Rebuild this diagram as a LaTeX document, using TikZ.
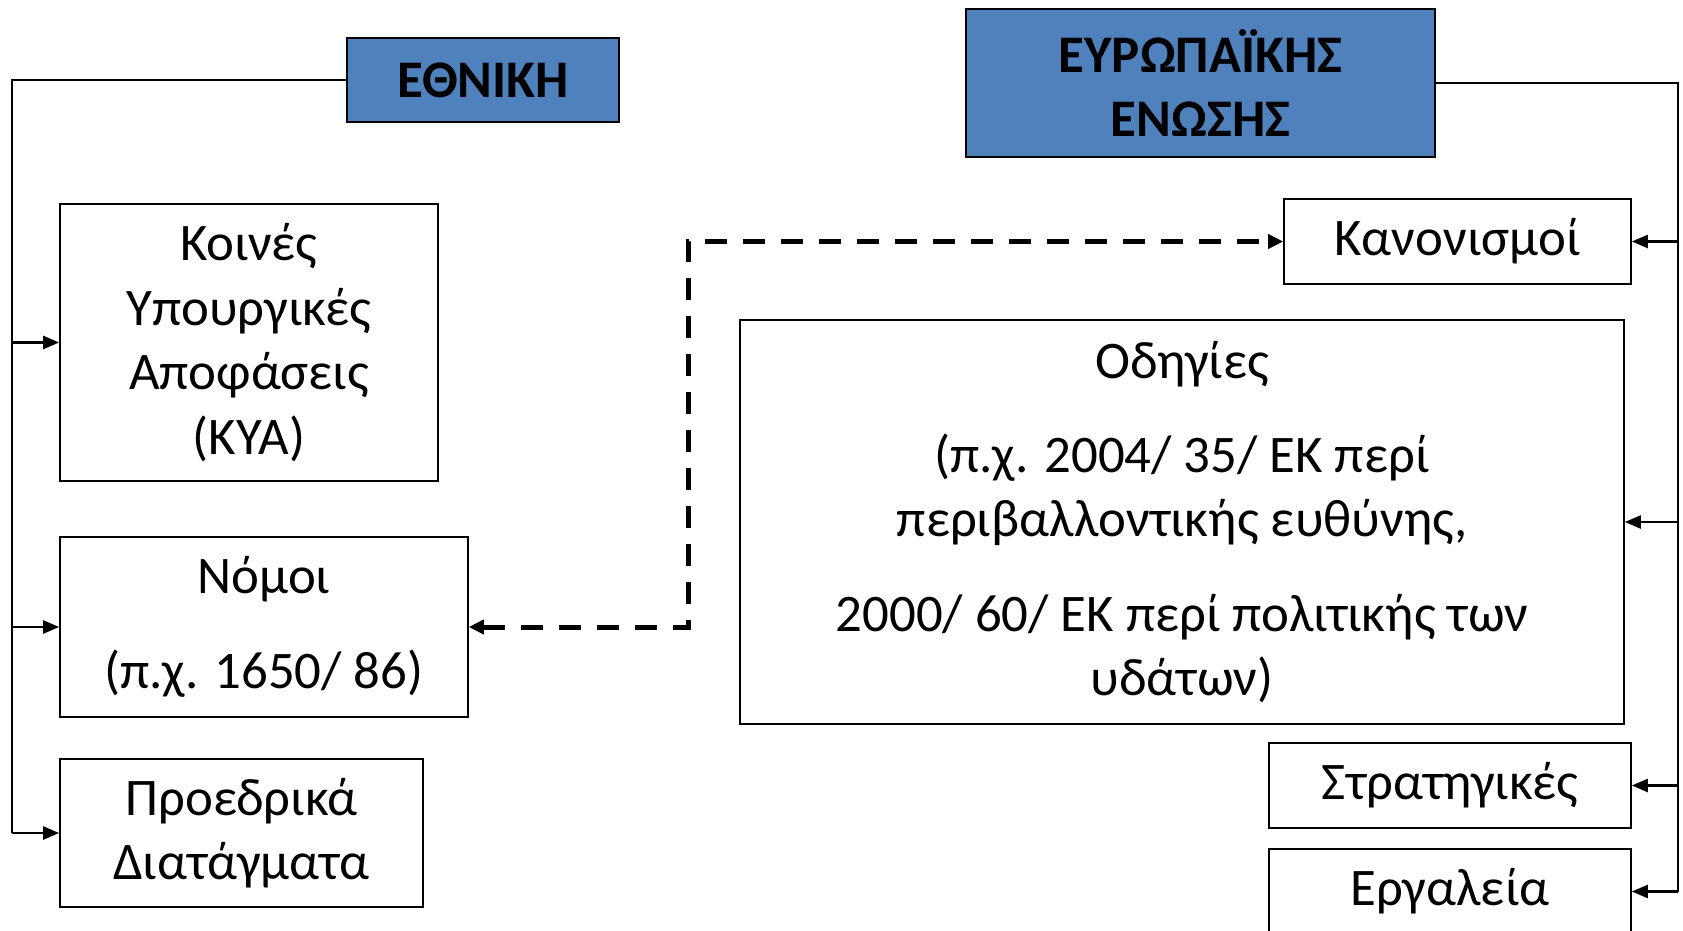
\documentclass[tikz,border=0pt]{standalone}
\usepackage{fontspec}
\setmainfont{Carlito}
\usetikzlibrary{arrows.meta}
\definecolor{TitleClr}{rgb}{0.31,0.506,0.741}
\definecolor{LineClr}{rgb}{0,0,0}

\begin{document}
\begin{tikzpicture}[x=.5pt,y=-.5pt,
  every node/.style={font=\fontsize{26.4}{32.2}\selectfont},
  Box/.style={draw=LineClr,line width=.8pt,align=center,inner sep=0pt},
  Title/.style={Box,fill=TitleClr,font=\fontsize{26.4}{32.2}\selectfont\bfseries},
  Line/.style={line width=1.1pt,color=LineClr},
  Link/.style={Line,-{Triangle[length=8pt,width=6.5pt]}},
  DashLink/.style={line width=2.5pt,dash pattern=on 11pt off 8pt,
    {Triangle[length=7.5pt,width=7pt]}-{Triangle[length=7.5pt,width=7pt]}}]
\clip (0,0) rectangle (1683,931);

\node[Title,minimum width=136pt,minimum height=42pt] (Nat) at (483,80) {ΕΘΝΙΚΗ};
\node[Title,minimum width=234.5pt,minimum height=74pt] (EU) at (1200.5,83) {ΕΥΡΩΠΑΪΚΗΣ\\ΕΝΩΣΗΣ};

\node[Box,minimum width=189pt,minimum height=138.5pt] (KYA) at (249,342.5)
  {Κοινές\\Υπουργικές\\Αποφάσεις\\(ΚΥΑ)};
\node[Box,minimum width=204pt,minimum height=90pt] (Nomoi) at (264,627)
  {Νόμοι\\[15pt](π.χ. 1650/ 86)};
\node[Box,minimum width=181.5pt,minimum height=74pt] (Proed) at (241.5,833)
  {Προεδρικά\\Διατάγματα};

\node[Box,minimum width=173.5pt,minimum height=42.5pt] (Kanon) at (1457.5,241.5) {Κανονισμοί};
\node[Box,minimum width=442pt,minimum height=202pt] (Odig) at (1182,522)
  {Οδηγίες\\[15pt](π.χ. 2004/ 35/ ΕΚ περί\\περιβαλλοντικής ευθύνης,\\[15pt]2000/ 60/ ΕΚ περί πολιτικής των\\υδάτων)};
\node[Box,minimum width=181pt,minimum height=42.5pt] (Strat) at (1450,785.5) {Στρατηγικές};
\node[Box,minimum width=181pt,minimum height=42.5pt] (Ergal) at (1450,891.5) {Εργαλεία};

\coordinate (LeftX) at (12,0);
\coordinate (RightX) at (1678,0);
\coordinate (Bend) at (688,0);

\draw[Line] (Nat.west) -- (Nat.west -| LeftX) -- (Proed.west -| LeftX);
\draw[Link] (KYA.west -| LeftX) -- (KYA.west);
\draw[Link] (Nomoi.west -| LeftX) -- (Nomoi.west);
\draw[Link] (Proed.west -| LeftX) -- (Proed.west);

\draw[Line] (EU.east) -- (EU.east -| RightX) -- (Ergal.east -| RightX);
\draw[Link] (Kanon.east -| RightX) -- (Kanon.east);
\draw[Link] (Odig.east -| RightX) -- (Odig.east);
\draw[Link] (Strat.east -| RightX) -- (Strat.east);
\draw[Link] (Ergal.east -| RightX) -- (Ergal.east);

\draw[DashLink] (Nomoi.east) -- (Nomoi.east -| Bend) -- (Kanon.west -| Bend) -- (Kanon.west);

\end{tikzpicture}
\end{document}
